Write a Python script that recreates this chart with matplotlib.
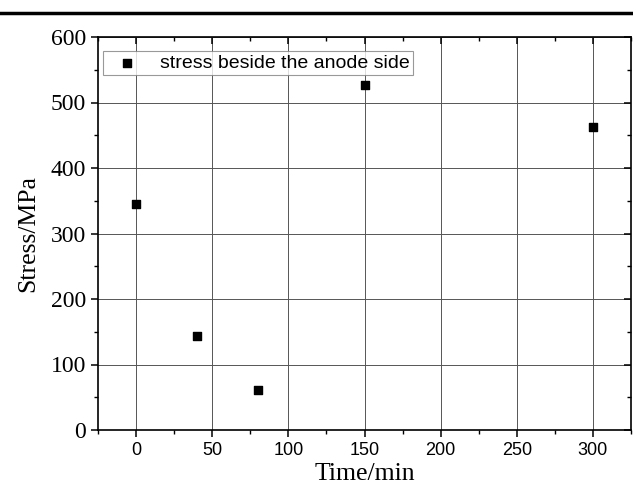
import matplotlib.pyplot as plt
from matplotlib.ticker import MultipleLocator

time_min = [0, 40, 80, 150, 300]
stress_mpa = [345, 144, 61, 527, 463]
series_label = 'stress beside the anode side'

fig = plt.figure(figsize=(6.33, 4.95), dpi=100)
ax = fig.add_axes([98 / 633, 1 - 430 / 495, 533 / 633, 393 / 495])

# page rule above the chart
fig.add_artist(plt.Line2D([0, 1], [1 - 13 / 495] * 2, color='black', lw=2.5,
                          transform=fig.transFigure))

ax.scatter(time_min, stress_mpa, marker='s', s=40, color='black', zorder=3,
           label=series_label)

ax.set_xlim(-25, 325)
ax.set_ylim(0, 600)
ax.xaxis.set_major_locator(MultipleLocator(50))
ax.xaxis.set_minor_locator(MultipleLocator(25))
ax.yaxis.set_major_locator(MultipleLocator(100))
ax.yaxis.set_minor_locator(MultipleLocator(50))
ax.grid(True, which='major', color='#555555', lw=0.7)

for s in ax.spines.values():
    s.set_linewidth(1.2)

ax.tick_params(axis='x', which='both', direction='out', top=True)
ax.tick_params(axis='y', which='both', direction='out', right=True)
ax.tick_params(which='major', length=5, width=1.1)
ax.tick_params(which='minor', length=3, width=1.0)
for t in ax.xaxis.get_major_ticks() + ax.xaxis.get_minor_ticks():
    t.tick2line.set_marker(3)
for t in ax.yaxis.get_major_ticks() + ax.yaxis.get_minor_ticks():
    t.tick2line.set_marker(0)

for lab in ax.get_xticklabels():
    lab.set_fontfamily('Liberation Sans')
    lab.set_fontsize(13)
for lab in ax.get_yticklabels():
    lab.set_fontfamily('Liberation Serif')
    lab.set_fontsize(17)

ax.set_xlabel('Time/min', family='Liberation Serif', fontsize=18.5, labelpad=3)
ax.set_ylabel('Stress/MPa', family='Liberation Serif', fontsize=18.5, labelpad=8)

leg = ax.legend(loc='upper left', bbox_to_anchor=(0.0094, 0.964),
                prop={'family': 'Liberation Sans', 'size': 14},
                frameon=True, fancybox=False, edgecolor='#808080',
                borderaxespad=0, handletextpad=0.6, markerscale=0.85,
                borderpad=0.15, handlelength=2.2)
leg.get_frame().set_linewidth(0.8)

fig.savefig('out.png', dpi=100)
